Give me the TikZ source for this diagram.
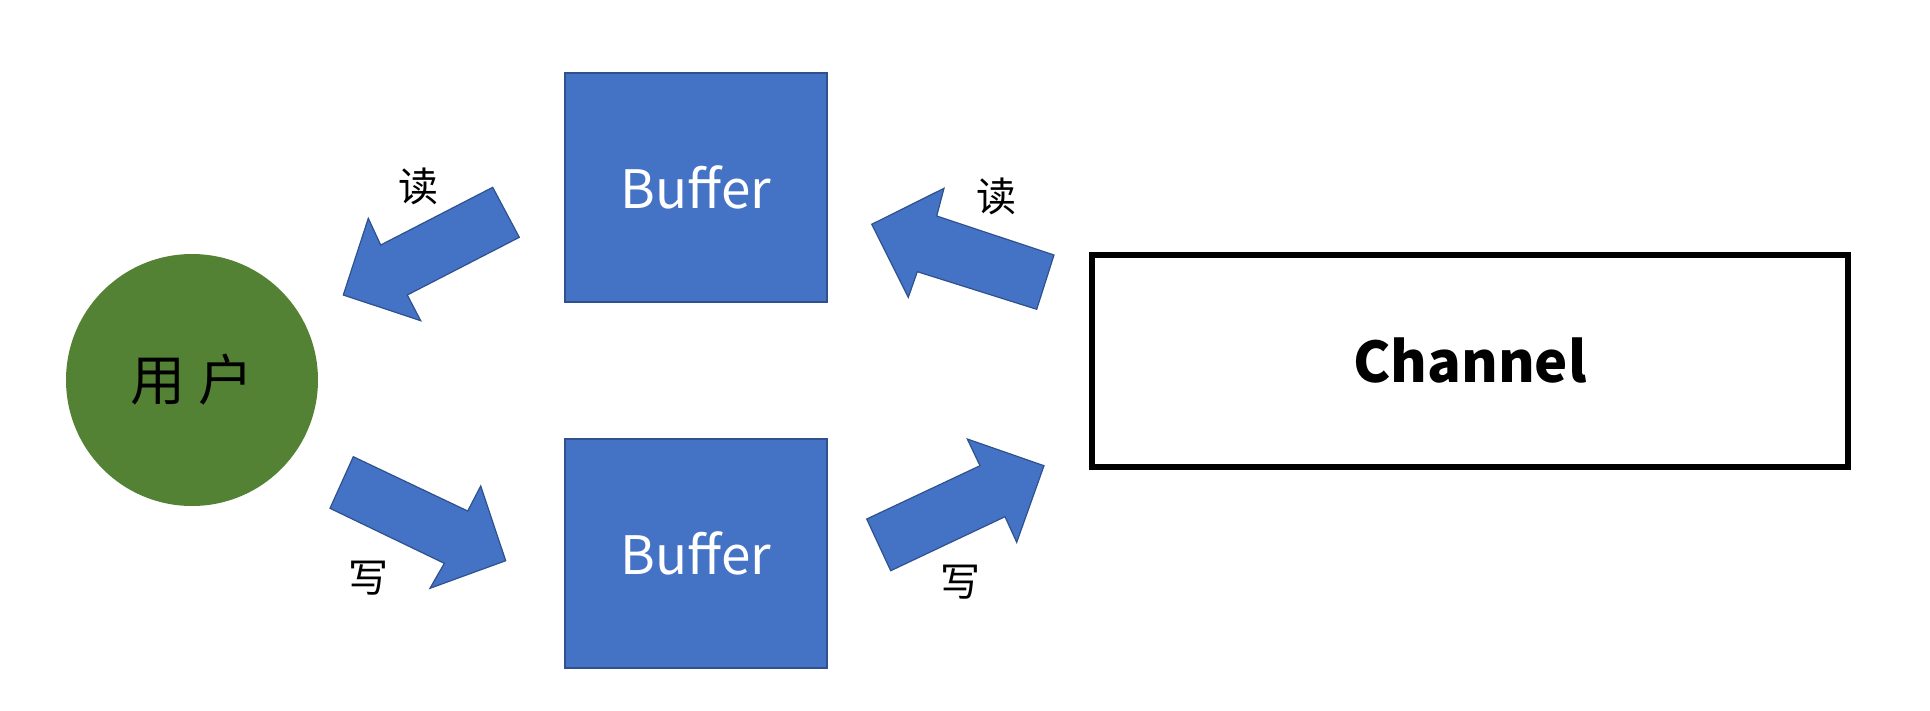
\documentclass[tikz,border=0pt]{standalone}
\usepackage{fontspec}
\setmainfont{Noto Sans CJK SC}
\definecolor{boxblue}{HTML}{4472C4}
\definecolor{edgeblue}{HTML}{2F528F}
\definecolor{usergreen}{HTML}{548235}
\tikzset{
  bufbox/.style={draw=edgeblue, fill=boxblue, line width=1.5pt, minimum width=262pt, minimum height=229pt, inner sep=0pt, text=white, font=\fontsize{53}{53}\selectfont},
  chanbox/.style={draw=black, fill=white, line width=5.5pt, minimum width=756pt, minimum height=212pt, inner sep=0pt, font=\fontsize{56}{56}\selectfont\bfseries},
  userdisc/.style={circle, fill=usergreen, minimum size=252pt, inner sep=0pt, font=\fontsize{55}{55}\selectfont},
  blockarrow/.style={draw=edgeblue, fill=boxblue, line width=1.2pt, line join=miter},
  actlabel/.style={inner sep=0pt, font=\fontsize{40}{40}\selectfont}
}
\begin{document}
\begin{tikzpicture}[x=1pt,y=-1pt]
\useasboundingbox (0,0) rectangle (1930,710);
\node[userdisc] (user) at (192,380) {用 户};
\node[bufbox] (buftop) at (696,187.7) {Buffer};
\node[bufbox] (bufbot) at (696,553.3) {Buffer};
\node[chanbox] (chan) at (1470,361) {Channel};
% read: Buffer -> user
\draw[blockarrow] (492.7,187.3) -- (519.3,237.3) -- (407.3,295) -- (420.7,320.7) -- (343.3,295) -- (368.3,218.3) -- (380.7,245) -- cycle;
% read: Channel -> Buffer
\draw[blockarrow] (1054,255) -- (1036.7,309.3) -- (917.3,271.7) -- (908.3,297.3) -- (871.7,224.3) -- (944,188.3) -- (936.7,216) -- cycle;
% write: user -> Buffer
\draw[blockarrow] (353.3,456.7) -- (330,508.3) -- (444.3,563.3) -- (430,588.3) -- (505.7,560.7) -- (480.7,486) -- (467.7,511) -- cycle;
% write: Buffer -> Channel
\draw[blockarrow] (890.7,570.7) -- (866.7,519) -- (980,465.7) -- (967.3,439) -- (1044,465.7) -- (1016.7,542.3) -- (1005,516.7) -- cycle;
\node[actlabel] (read1) at (418.3,186.7) {读};
\node[actlabel] (read2) at (996.7,196.7) {读};
\node[actlabel] (write1) at (368.3,578.3) {写};
\node[actlabel] (write2) at (960,581.7) {写};
\end{tikzpicture}
\end{document}
